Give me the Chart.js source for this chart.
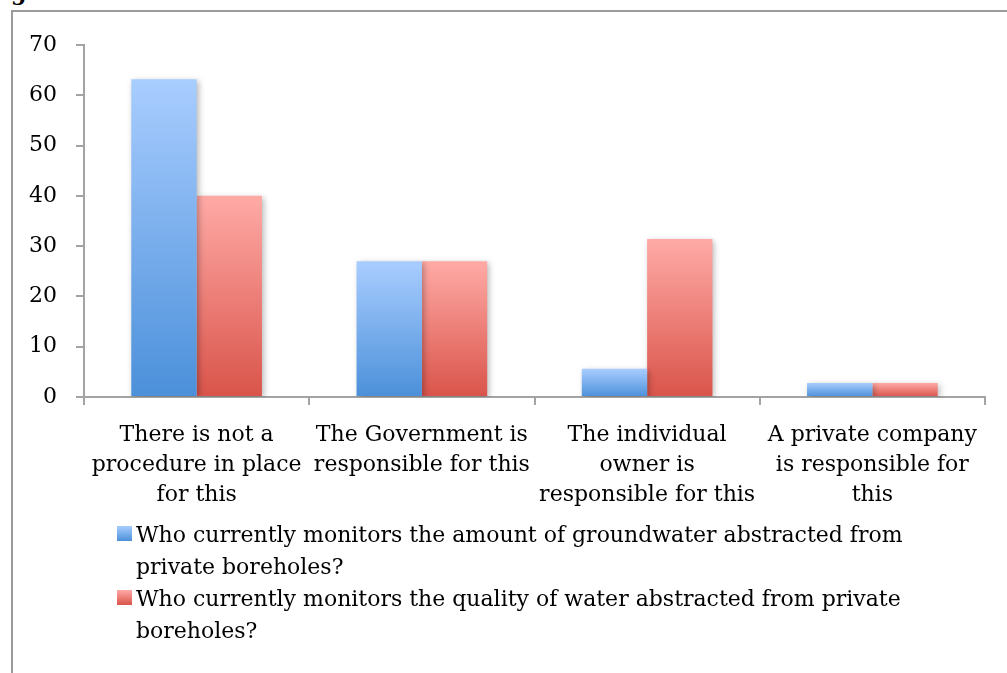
<!DOCTYPE html>
<html>
<head>
<meta charset="utf-8">
<script src="https://cdn.jsdelivr.net/npm/chart.js@4.4.1/dist/chart.umd.min.js"></script>
<style>
  html, body { margin: 0; padding: 0; background: #fff; }
  body { width: 1007px; height: 673px; position: relative; overflow: hidden; font-family: "DejaVu Serif", serif; }
  #frame { position: absolute; left: 11px; top: 10px; width: 1100px; height: 800px; border-top: 2px solid #9b9b9b; border-left: 2px solid #9b9b9b; }
  #heading { position: absolute; left: 11px; top: -19px; font-size: 22px; line-height: 22px; font-weight: bold; color: #000; }
  #chartBox { position: absolute; left: 0; top: 0; width: 1007px; height: 673px; }
  #legend { position: absolute; left: 117px; top: 519px; }
  .item { display: flex; align-items: flex-start; }
  .mark { width: 15px; height: 15px; margin-top: 7px; margin-right: 4px; flex: none; }
  .txt { width: 830px; font-size: 22px; line-height: 32px; color: #000; }
</style>
</head>
<body>
<div id="frame"></div>
<div id="heading">g</div>
<div id="chartBox"><canvas id="barChart"></canvas></div>
<div id="legend"></div>
<script>
const categories = [
  ["There is not a", "procedure in place", "for this"],
  ["The Government is", "responsible for this"],
  ["The individual", "owner is", "responsible for this"],
  ["A private company", "is responsible for", "this"],
];
const amountValues = [63.2, 27.0, 5.6, 2.8];
const qualityValues = [40.0, 27.0, 31.4, 2.8];
const seriesLabels = [
  "Who currently monitors the amount of groundwater abstracted from private boreholes?",
  "Who currently monitors the quality of water abstracted from private boreholes?",
];
const yTicks = [0, 10, 20, 30, 40, 50, 60, 70];

const blueStops = ["#a9cdff", "#4b90da"];
const redStops = ["#ffaaa6", "#d9544a"];

function barGradient(stops) {
  return function (context) {
    const chart = context.chart;
    const yScale = chart.scales.y;
    if (context.type !== "data" || !yScale || !chart.chartArea) return stops[1];
    const top = yScale.getPixelForValue(context.raw);
    const bottom = yScale.getPixelForValue(0);
    if (!isFinite(top) || !isFinite(bottom) || top === bottom) return stops[1];
    const g = chart.ctx.createLinearGradient(0, top, 0, bottom);
    g.addColorStop(0, stops[0]);
    g.addColorStop(1, stops[1]);
    return g;
  };
}

const barShadow = {
  id: "barShadow",
  beforeDatasetsDraw(chart) {
    const ctx = chart.ctx;
    ctx.save();
    ctx.shadowColor = "rgba(0, 0, 0, 0.28)";
    ctx.shadowBlur = 6;
    ctx.shadowOffsetX = 2;
    ctx.shadowOffsetY = 2;
  },
  afterDatasetsDraw(chart) {
    chart.ctx.restore();
  },
};

const axisColor = "#a3a3a3";

function displayChart() {
  const ctx = document.getElementById("barChart").getContext("2d");

  new Chart(ctx, {
    type: "bar",
    data: {
      labels: categories,
      datasets: [
        {
          label: seriesLabels[0],
          data: amountValues,
          backgroundColor: barGradient(blueStops),
          borderWidth: 0,
        },
        {
          label: seriesLabels[1],
          data: qualityValues,
          backgroundColor: barGradient(redStops),
          borderWidth: 0,
        },
      ],
    },
    options: {
      responsive: true,
      maintainAspectRatio: false,
      animation: false,
      layout: { padding: { left: 0, top: 45, right: 22, bottom: 0 } },
      datasets: {
        bar: { categoryPercentage: 0.58, barPercentage: 1.0 },
      },
      plugins: {
        legend: { display: false },
        tooltip: { enabled: false },
      },
      scales: {
        x: {
          grid: {
            offset: true,
            drawOnChartArea: false,
            drawTicks: true,
            tickLength: 8,
            color: axisColor,
            lineWidth: 2,
          },
          border: { display: true, color: axisColor, width: 2 },
          ticks: {
            color: "#000",
            font: { family: "DejaVu Serif", size: 22, lineHeight: 1.36 },
            padding: 15,
            maxRotation: 0,
            autoSkip: false,
          },
          afterFit(scale) {
            scale.height = 276;
          },
        },
        y: {
          min: 0,
          max: 70,
          afterBuildTicks(scale) {
            scale.ticks = yTicks.map((v) => ({ value: v }));
          },
          grid: {
            drawOnChartArea: false,
            drawTicks: true,
            tickLength: 8,
            color: axisColor,
            lineWidth: 2,
          },
          border: { display: true, color: axisColor, width: 2 },
          ticks: {
            color: "#000",
            font: { family: "DejaVu Serif", size: 22 },
            padding: 19,
          },
          afterFit(scale) {
            scale.width = 84;
          },
        },
      },
    },
    plugins: [barShadow],
  });

  const legend = document.getElementById("legend");
  const stops = [blueStops, redStops];
  seriesLabels.forEach((label, i) => {
    legend.innerHTML += `
      <div class="item">
        <div class="mark" style="background: linear-gradient(${stops[i][0]}, ${stops[i][1]});"></div>
        <div class="txt">${label}</div>
      </div>
    `;
  });
}

document.addEventListener("DOMContentLoaded", displayChart);
</script>
</body>
</html>
